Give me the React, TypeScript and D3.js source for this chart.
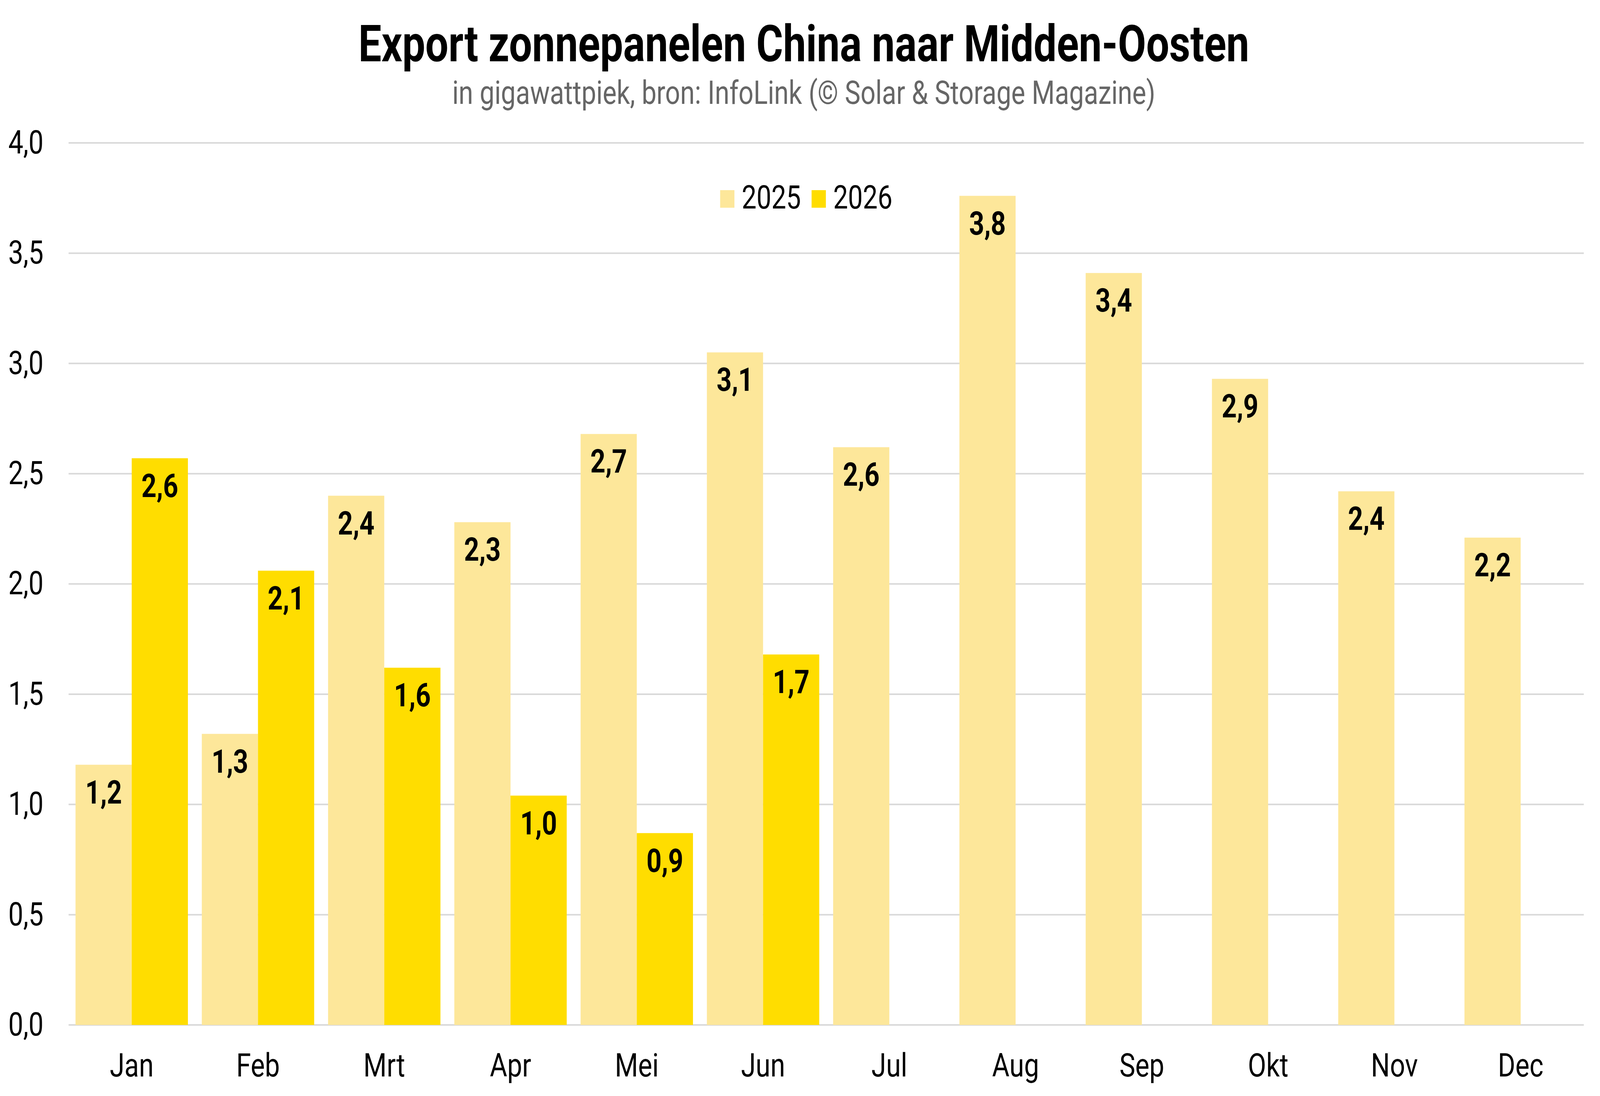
// @ts-nocheck
import React, { useRef, useEffect } from 'react';
import * as d3 from 'd3';

// months on the x axis
const months = ["Jan", "Feb", "Mrt", "Apr", "Mei", "Jun", "Jul", "Aug", "Sep", "Okt", "Nov", "Dec"];
const seriesNames = ["2025", "2026"];

// export in GWp
const values2025 = [1.18, 1.32, 2.40, 2.28, 2.68, 3.05, 2.62, 3.76, 3.41, 2.93, 2.42, 2.21];
const values2026 = [2.57, 2.06, 1.62, 1.04, 0.87, 1.68];

const yTicks = [0, 0.5, 1, 1.5, 2, 2.5, 3, 3.5, 4];

const colors = ["#FDE79A", "#FFDD00"];

// drawing space of the original chart
const W = 5039;
const H = 2807;
const font = "Roboto, 'Noto Sans', sans-serif";

const fmt = (v: number) => (Math.round(v * 10 + 1e-6) / 10).toFixed(1).replace(".", ",");

const Chart = () => {
    const ref = useRef<SVGSVGElement | null>(null);

    useEffect(() => {
        const svg = d3.select(ref.current);
        svg.selectAll("*").remove();

        const left = 216, right = 4988, top = 366, bottom = 2625;

        const x = d3.scaleBand().domain(months).range([left, right]).paddingInner(0.11).paddingOuter(0.055);
        const xs = d3.scaleBand().domain(seriesNames).range([0, x.bandwidth()]);
        const y = d3.scaleLinear().domain([0, 4]).range([bottom, top]);

        // title + subtitle
        svg.append("text")
            .attr("x", W / 2 + 12).attr("y", 157)
            .attr("text-anchor", "middle")
            .style("font-family", font).style("font-weight", 700).style("font-size", "129px")
            .text("Export zonnepanelen China naar Midden-Oosten");
        svg.append("text")
            .attr("x", W / 2 + 12).attr("y", 266)
            .attr("text-anchor", "middle")
            .style("font-family", font).style("font-size", "83px").style("fill", "#666666")
            .text("in gigawattpiek, bron: InfoLink (© Solar & Storage Magazine)");

        // gridlines
        svg.append("g").selectAll("line")
            .data(yTicks)
            .enter().append("line")
            .attr("x1", left).attr("x2", right)
            .attr("y1", d => y(d)).attr("y2", d => y(d))
            .style("stroke", "#d9d9d9").style("stroke-width", 4);

        // y labels
        svg.append("g").selectAll("text")
            .data(yTicks)
            .enter().append("text")
            .attr("x", 137).attr("y", d => y(d) + 27)
            .attr("text-anchor", "end")
            .style("font-family", font).style("font-size", "84px")
            .text(d => fmt(d));

        // month labels
        svg.append("g").selectAll("text")
            .data(months)
            .enter().append("text")
            .attr("x", d => x(d)! + x.bandwidth() / 2).attr("y", 2757)
            .attr("text-anchor", "middle")
            .style("font-family", font).style("font-size", "84px")
            .text(d => d);

        const rows = [];
        months.forEach((m, i) => {
            rows.push({ month: m, series: "2025", value: values2025[i], color: colors[0] });
            if (i < values2026.length) rows.push({ month: m, series: "2026", value: values2026[i], color: colors[1] });
        });

        const bars = svg.append("g").selectAll("g")
            .data(rows)
            .enter().append("g")
            .attr("transform", d => `translate(${x(d.month)! + xs(d.series)!},0)`);

        bars.append("rect")
            .attr("x", 0).attr("width", xs.bandwidth())
            .attr("y", d => y(d.value))
            .attr("height", d => y(0) - y(d.value))
            .style("fill", d => d.color);

        bars.append("text")
            .attr("x", xs.bandwidth() / 2)
            .attr("y", d => y(d.value) + 99)
            .attr("text-anchor", "middle")
            .style("font-family", font).style("font-weight", 700).style("font-size", "83px")
            .text(d => fmt(d.value));

        // legend
        const legendX = [2268, 2556];
        const legend = svg.append("g").selectAll("g")
            .data(seriesNames)
            .enter().append("g")
            .attr("transform", (d, i) => `translate(${legendX[i]},0)`);
        legend.append("rect")
            .attr("x", 0).attr("y", 487).attr("width", 45).attr("height", 45)
            .style("fill", (d, i) => colors[i]);
        legend.append("text")
            .attr("x", 68).attr("y", 534)
            .style("font-family", font).style("font-size", "83px")
            .text(d => d);
    }, []);

    // the window caps at 4096 wide, so stretch the 5039-wide drawing over the whole viewport
    return (
        <>
            <style>{"html,body{margin:0;padding:0;overflow:hidden;background:#fff}"}</style>
            <svg ref={ref} viewBox={`0 0 ${W} ${H}`} preserveAspectRatio="none"
                 style={{ display: "block", width: "100vw", height: "100vh", background: "#fff" }} />
        </>
    );
};

export default function App() {
    return <Chart />;
}
